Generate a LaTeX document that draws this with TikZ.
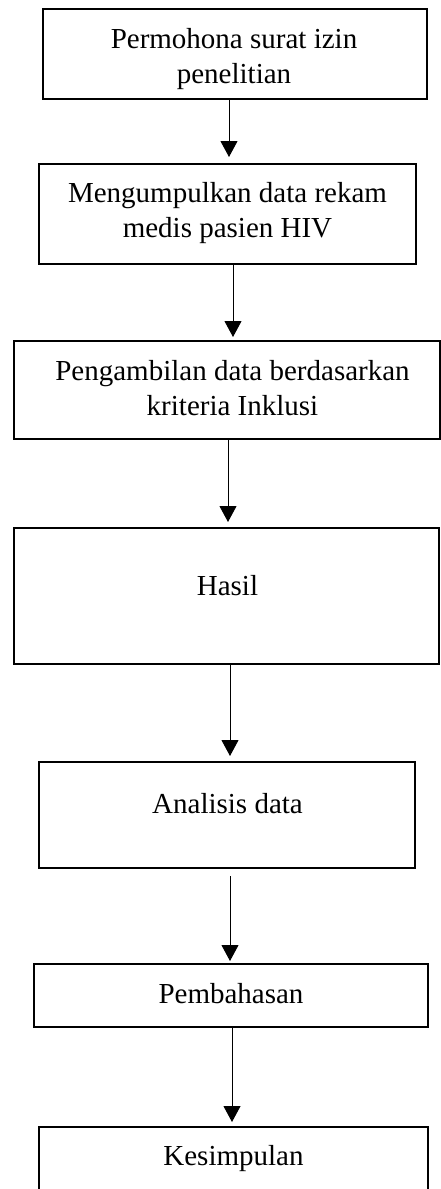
\documentclass[tikz,border=0pt]{standalone}
\usepackage{fontspec}
\setmainfont{Liberation Serif}
\usetikzlibrary{arrows.meta}
\tikzset{
  stepbox/.style={draw=black, line width=2pt, rectangle, inner sep=0pt, fill=none},
  steptext/.style={anchor=base, inner sep=0pt, font=\fontsize{29}{35}\selectfont},
  arr/.style={draw=black, line width=1pt, -{Triangle[length=16pt,width=17pt]}},
}
\newcommand{\twoline}[2]{\begin{tabular}[t]{@{}c@{}}#1\\#2\end{tabular}}
\begin{document}
\begin{tikzpicture}[x=1pt,y=-1pt]
\useasboundingbox (0,0) rectangle (441,1189);
\clip (0,0) rectangle (441,1189);
% boxes
\node[stepbox, minimum width=384pt, minimum height=90pt]  (b1) at (235,54) {};
\node[stepbox, minimum width=377pt, minimum height=100pt] (b2) at (227.5,214) {};
\node[stepbox, minimum width=426pt, minimum height=98pt]  (b3) at (227,390) {};
\node[stepbox, minimum width=425pt, minimum height=136pt] (b4) at (226.5,596) {};
\node[stepbox, minimum width=376pt, minimum height=106pt] (b5) at (227,815) {};
\node[stepbox, minimum width=394pt, minimum height=63pt]  (b6) at (231,995.5) {};
\node[stepbox, minimum width=389pt, minimum height=93pt]  (b7) at (233.5,1173.5) {};
% texts
\node[steptext] (t1) at (234,48)    {\twoline{Permohona surat izin}{penelitian}};
\node[steptext] (t2) at (227.5,202) {\twoline{Mengumpulkan data rekam}{medis pasien HIV}};
\node[steptext] (t3) at (232.5,380) {\twoline{Pengambilan data berdasarkan}{kriteria Inklusi}};
\node[steptext] (t4) at (227.5,595) {Hasil};
\node[steptext] (t5) at (227.5,813) {Analisis data};
\node[steptext] (t6) at (231,1003)  {Pembahasan};
\node[steptext] (t7) at (233.5,1165) {Kesimpulan};
% arrow columns
\coordinate (c1) at (229,0);
\coordinate (c2) at (233,0);
\coordinate (c3) at (228,0);
\coordinate (c4) at (230,0);
\coordinate (c5) at (230,0);
\coordinate (c6) at (232,0);
% connectors
\draw[arr, shorten >=6pt] (b1.south -| c1) -- (b2.north -| c1);
\draw[arr, shorten >=3pt] (b2.south -| c2) -- (b3.north -| c2);
\draw[arr, shorten >=5pt] (b3.south -| c3) -- (b4.north -| c3);
\draw[arr, shorten >=5pt] (b4.south -| c4) -- (b5.north -| c4);
\draw[arr, shorten <=7pt, shorten >=2pt] (b5.south -| c5) -- (b6.north -| c5);
\draw[arr, shorten >=4pt] (b6.south -| c6) -- (b7.north -| c6);
\end{tikzpicture}
\end{document}
